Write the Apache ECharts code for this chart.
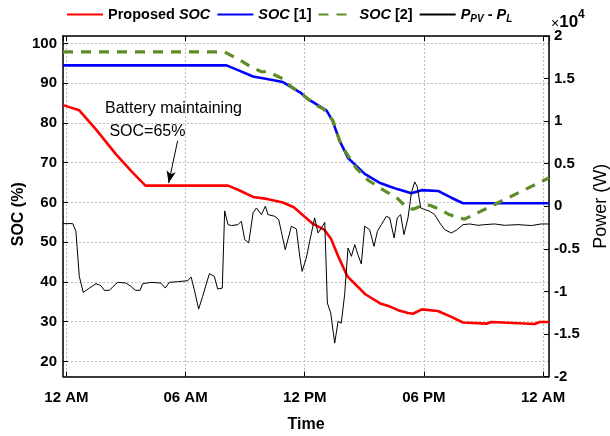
<!DOCTYPE html>
<html>
<head>
<meta charset="utf-8">
<script src="https://cdn.jsdelivr.net/npm/echarts@6/dist/echarts.min.js"></script>
<style>
html,body{margin:0;padding:0;background:#fff;}
#chart{width:610px;height:436px;}
</style>
</head>
<body>
<div id="chart"></div>
<script>
// ---------- data ----------
const legendNames = ['Proposed SOC', 'SOC [1]', 'SOC [2]', 'P_PV - P_L'];
const xTickHours = [0, 6, 12, 18, 24];
const xTickLabels = ['12 AM', '06 AM', '12 PM', '06 PM', '12 AM'];

const redHours = [-0.17, 0.65, 1.49, 2.50, 3.34, 3.98, 8.14, 8.64, 9.40, 10.10, 10.90, 11.45, 12.00, 12.42, 13.00, 13.33, 13.70, 14.15, 15.05, 15.80, 16.30, 16.70, 17.20, 17.45, 17.90, 18.70, 19.38, 19.97, 21.15, 21.40, 23.58, 23.83, 24.30];
const redSOC   = [84.5, 83.2, 78.4, 72.1, 67.5, 64.25, 64.25, 63.2, 61.4, 60.9, 60.0, 58.8, 56.4, 54.6, 53.1, 50.8, 46.3, 41.4, 36.9, 34.6, 33.8, 32.9, 32.2, 32.0, 33.1, 32.7, 31.2, 29.8, 29.5, 29.9, 29.4, 29.9, 29.9];

const blueHours = [-0.17, 8.06, 8.64, 9.40, 10.10, 10.90, 11.30, 11.80, 12.10, 12.50, 13.10, 13.40, 13.76, 14.18, 15.02, 15.80, 16.28, 16.70, 17.37, 17.88, 18.71, 19.38, 19.97, 24.30];
const blueSOC   = [94.5, 94.5, 93.3, 91.7, 91.1, 90.3, 89.1, 87.6, 86.2, 85.0, 83.1, 80.6, 75.5, 71.2, 67.2, 64.9, 64.0, 63.3, 62.3, 63.1, 62.9, 61.2, 59.8, 59.8];

const greenHours = [-0.17, 7.97, 8.22, 8.89, 9.23, 9.82, 10.15, 10.91, 11.33, 11.91, 12.50, 12.95, 13.42, 13.76, 14.10, 14.60, 15.19, 16.10, 16.62, 17.10, 17.45, 17.90, 18.30, 18.80, 19.30, 20.05, 24.30];
const greenSOC   = [97.9, 97.9, 97.2, 95.4, 94.3, 92.9, 92.9, 91.1, 89.1, 87.1, 84.7, 83.5, 80.6, 75.5, 72.4, 68.6, 65.6, 62.7, 61.3, 58.9, 58.3, 59.2, 59.3, 58.3, 56.9, 55.8, 66.2];

const blackHours = [-0.17, 0.32, 0.48, 0.65, 0.85, 1.16, 1.49, 1.74, 1.91, 2.16, 2.58, 3.00, 3.25, 3.47, 3.71, 3.84, 4.26, 4.76, 4.98, 5.18, 5.60, 6.11, 6.28, 6.44, 6.66, 6.86, 7.20, 7.45, 7.62, 7.85, 7.97, 8.14, 8.31, 8.64, 8.81, 8.98, 9.18, 9.40, 9.57, 9.82, 10.02, 10.15, 10.49, 10.69, 10.82, 11.02, 11.33, 11.58, 11.75, 11.87, 12.08, 12.25, 12.50, 12.67, 12.84, 13.01, 13.14, 13.31, 13.51, 13.68, 13.84, 14.01, 14.18, 14.35, 14.52, 14.68, 14.85, 15.02, 15.27, 15.49, 15.66, 15.86, 16.11, 16.28, 16.50, 16.66, 16.83, 17.00, 17.20, 17.37, 17.54, 17.67, 17.84, 18.04, 18.29, 18.54, 18.80, 19.05, 19.38, 19.63, 19.97, 20.31, 20.73, 21.06, 21.56, 22.07, 22.74, 23.41, 23.91, 24.30];
const blackPower = [-2040, -2040, -2940, -8240, -10120, -9610, -9100, -9330, -9880, -9880, -8940, -9020, -9410, -9880, -9880, -9100, -8940, -9020, -9610, -8940, -8860, -8750, -8310, -9800, -12080, -10590, -7920, -8240, -9730, -9610, -550, -2160, -2270, -2160, -1760, -3920, -4310, -780, -200, -980, 0, -980, -1180, -1570, -2940, -5100, -2350, -2670, -5880, -7650, -6080, -4120, -1370, -3140, -2550, -1880, -11370, -12550, -16080, -13530, -13730, -10390, -4900, -5880, -4510, -5690, -6780, -2350, -2750, -4710, -2940, -2160, -1180, -1370, -3730, -1370, -980, -3330, -1370, 1570, 2860, 2270, -200, -390, -590, -980, -1960, -2750, -3140, -2820, -2160, -2080, -2240, -2160, -2080, -2240, -2160, -2270, -2080, -2080];

const arrowTail = [5.60, 75.5];
const arrowHead = [5.15, 64.9];
const annotationLines = ['Battery maintaining', ' SOC=65%'];

// ---------- chart ----------
const FONT = '"Liberation Sans", Arial, Helvetica, sans-serif';
const pairs = (xs, ys) => xs.map((x, i) => [x, ys[i]]);
const chart = echarts.init(document.getElementById('chart'), null, {renderer: 'canvas'});

const gridLine = {show: true, lineStyle: {color: '#bcbcbc', width: 1, type: [2, 2]}};
const boxLine = {show: true, onZero: false, lineStyle: {color: '#000', width: 1.5}};
const inTick = {show: true, inside: true, length: 5, lineStyle: {color: '#000', width: 1}};
const tickFont = {fontFamily: FONT, fontWeight: 'bold', fontSize: 15, color: '#000'};

const legendRich = {
  'Proposed SOC': '{b|Proposed }{bi|SOC}',
  'SOC [1]': '{bi|SOC}{b| [1]}',
  'SOC [2]': '{bi|SOC}{b| [2]}',
  'P_PV - P_L': '{bi|P}{s|PV}{b| - }{bi|P}{s|L}'
};

const option = {
  animation: false,
  backgroundColor: '#ffffff',
  grid: {left: 63, right: 61, top: 36, bottom: 59.5, containLabel: false, outerBoundsMode: 'none'},
  legend: {
    data: legendNames,
    top: 7, left: 66, padding: 0,
    itemWidth: 36, itemHeight: 14, itemGap: 6,
    selectedMode: false,
    itemStyle: {color: 'rgba(0,0,0,0)', borderWidth: 0, opacity: 0},
    formatter: name => legendRich[name],
    textStyle: {
      fontFamily: FONT, fontSize: 14.5, fontWeight: 'bold', color: '#000',
      rich: {
        b: {fontFamily: FONT, fontSize: 14.5, fontWeight: 'bold', color: '#000'},
        bi: {fontFamily: FONT, fontSize: 14.5, fontWeight: 'bold', fontStyle: 'italic', color: '#000'},
        s: {fontFamily: FONT, fontSize: 10, fontWeight: 'bold', fontStyle: 'italic', color: '#000', verticalAlign: 'bottom', lineHeight: 20}
      }
    }
  },
  xAxis: [{
    type: 'value', position: 'bottom', min: -0.17, max: 24.3,
    minInterval: 6, maxInterval: 6, splitNumber: 4,
    axisLine: boxLine, axisTick: inTick,
    axisLabel: Object.assign({margin: 14, showMinLabel: false, showMaxLabel: false,
      formatter: v => { const i = xTickHours.indexOf(Math.round(v * 1000) / 1000); return i >= 0 ? xTickLabels[i] : ''; }}, tickFont),
    splitLine: gridLine,
    name: 'Time', nameLocation: 'middle', nameGap: 40, nameMoveOverlap: false,
    nameTextStyle: {fontFamily: FONT, fontWeight: 'bold', fontSize: 16, color: '#000'}
  }, {
    type: 'value', position: 'top', min: -0.17, max: 24.3,
    minInterval: 6, maxInterval: 6, splitNumber: 4,
    axisLine: boxLine, axisTick: inTick, axisLabel: {show: false}, splitLine: {show: false}
  }],
  yAxis: [{
    type: 'value', position: 'left', min: 16.2, max: 101.9,
    minInterval: 10, maxInterval: 10, splitNumber: 8,
    axisLine: boxLine, axisTick: inTick,
    axisLabel: Object.assign({margin: 6, showMinLabel: false, showMaxLabel: false,
      formatter: v => (Math.abs(v % 10) < 1e-6 ? String(v) : '')}, tickFont),
    splitLine: gridLine,
    name: 'SOC (%)', nameLocation: 'middle', nameRotate: 90, nameGap: 36, nameMoveOverlap: false,
    nameTextStyle: {fontFamily: FONT, fontWeight: 'bold', fontSize: 16, color: '#000', padding: [0, 16, 0, 0]}
  }, {
    type: 'value', position: 'right', min: -20000, max: 20000, interval: 5000,
    axisLine: boxLine, axisTick: inTick,
    axisLabel: Object.assign({margin: 5, formatter: v => String(v / 10000)}, tickFont),
    splitLine: {show: false},
    name: 'Power (W)', nameLocation: 'middle', nameRotate: 90, nameGap: 43, nameMoveOverlap: false,
    nameTextStyle: {fontFamily: FONT, fontWeight: 'normal', fontSize: 18, color: '#000'}
  }],
  graphic: [
    {type: 'text', left: 105, top: 101, silent: true, style: {text: annotationLines[0], font: '16px ' + FONT, fill: '#000'}},
    {type: 'text', left: 105, top: 124, silent: true, style: {text: annotationLines[1], font: '16px ' + FONT, fill: '#000'}},
    {type: 'text', left: 551, top: 9, silent: true, style: {
      text: '{x|×}{t|10}{e|4}',
      rich: {
        x: {fontFamily: FONT, fontSize: 14, color: '#000', verticalAlign: 'bottom', lineHeight: 22},
        t: {fontFamily: FONT, fontSize: 17, fontWeight: 'bold', color: '#000', verticalAlign: 'bottom', lineHeight: 22},
        e: {fontFamily: FONT, fontSize: 12, fontWeight: 'bold', color: '#000', verticalAlign: 'top', lineHeight: 22}
      }
    }}
  ],
  series: [{
    name: legendNames[0], type: 'line', xAxisIndex: 0, yAxisIndex: 0,
    data: pairs(redHours, redSOC), symbol: 'none', color: '#ff0000',
    lineStyle: {color: '#ff0000', width: 2.6}, z: 2,
    markLine: {
      silent: true, symbol: ['none', 'arrow'], symbolSize: [7, 12], precision: 2,
      label: {show: false}, emphasis: {disabled: true},
      lineStyle: {color: '#000', width: 1, type: 'solid'},
      data: [[{coord: arrowTail}, {coord: arrowHead}]]
    }
  }, {
    name: legendNames[1], type: 'line', xAxisIndex: 0, yAxisIndex: 0,
    data: pairs(blueHours, blueSOC), symbol: 'none', color: '#0000ff',
    lineStyle: {color: '#0000ff', width: 2.6}, z: 3
  }, {
    name: legendNames[2], type: 'line', xAxisIndex: 0, yAxisIndex: 0,
    data: pairs(greenHours, greenSOC), symbol: 'none', color: '#5e8c25',
    lineStyle: {color: '#5e8c25', width: 3.2, type: [10, 8]}, z: 4
  }, {
    name: legendNames[3], type: 'line', xAxisIndex: 0, yAxisIndex: 1,
    data: pairs(blackHours, blackPower), symbol: 'none', color: '#000',
    lineStyle: {color: '#000', width: 1}, z: 5
  }]
};
chart.setOption(option);
</script>
</body>
</html>
